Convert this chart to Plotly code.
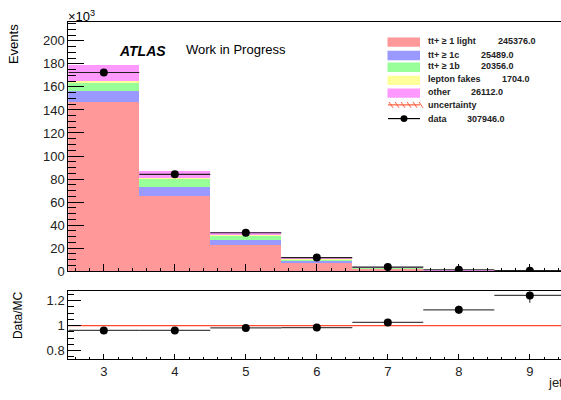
import numpy as np
import plotly.graph_objects as go

# ---- data: jet multiplicity bins (events per bin) ----
jet_bins = [3, 4, 5, 6, 7, 8, 9]
light = [147000, 65300, 23100, 7300, 2300, 550, 130]
one_c = [10000, 8000, 4400, 1800, 500, 250, 100]
one_b = [7300, 7000, 4000, 1500, 300, 120, 40]
fakes = [800, 500, 250, 100, 30, 15, 9]
other = [14200, 6600, 2200, 1300, 300, 150, 80]
data = [172500, 84100, 33340, 11820, 3520, 1223, 446]

sample_names = ["tt+ \u2265 1 light", "tt+ \u2265 1c", "tt+ \u2265 1b", "lepton fakes", "other"]
sample_totals = ["245376.0", "25489.0", "20356.0", "1704.0", "26112.0"]
data_total = "307946.0"
colors = ["#ff9999", "#9999ff", "#99ff99", "#ffff99", "#ff99ff"]

W, H = 561, 400


def px(x):
    return x / W


def py(y):
    return 1 - y / H


stack = [np.array(s, float) for s in (light, one_c, one_b, fakes, other)]
mc_total = sum(stack)
data_arr = np.array(data, float)
ratio = data_arr / mc_total
ratio_err = np.sqrt(data_arr) / mc_total

fig = go.Figure()

# stacked simulation histograms (in units of 10^3 events)
for s, c, n in zip(stack, colors, sample_names):
    fig.add_trace(go.Bar(x=jet_bins, y=s / 1000, width=1.0, marker=dict(color=c, line=dict(width=0)),
                         name=n, xaxis="x", yaxis="y", showlegend=False))

# data points with bin-width horizontal bars
fig.add_trace(go.Scatter(
    x=jet_bins, y=data_arr / 1000, mode="markers",
    marker=dict(color="black", size=8),
    error_x=dict(type="constant", value=0.5, color="#222", thickness=1.2, width=0),
    error_y=dict(type="data", array=np.sqrt(data_arr) / 1000, color="#222", thickness=1.2, width=0),
    xaxis="x", yaxis="y", showlegend=False))

# ratio panel: unit line for the uncertainty band and data/MC points
fig.add_trace(go.Scatter(x=[2.5, 9.5], y=[1, 1], mode="lines",
                         line=dict(color="#ff4a2a", width=1.2),
                         xaxis="x2", yaxis="y2", showlegend=False))
fig.add_trace(go.Scatter(
    x=jet_bins, y=ratio, mode="markers",
    marker=dict(color="black", size=8),
    error_x=dict(type="constant", value=0.5, color="#444", thickness=1.2, width=0),
    error_y=dict(type="data", array=ratio_err, color="#444", thickness=1.2, width=0),
    xaxis="x2", yaxis="y2", showlegend=False))

x_left = 68.3
x_scale = 71.0
x_lo = 2.5
x_hi = 2.5 + (W - x_left) / x_scale
axis_common = dict(showline=True, linecolor="black", linewidth=1, ticks="inside",
                   tickcolor="black", tickwidth=1, showgrid=False, zeroline=False,
                   tickfont=dict(family="Liberation Sans", size=13, color="#222"))

fig.update_layout(
    width=W, height=H, margin=dict(l=0, r=0, t=0, b=0),
    paper_bgcolor="white", plot_bgcolor="white", barmode="stack", bargap=0,
    xaxis=dict(domain=[px(x_left), 1], range=[x_lo, x_hi], dtick=1, ticklen=7,
               showticklabels=False, mirror=True, anchor="y",
               minor=dict(ticks="inside", dtick=0.2, ticklen=3.5, tickcolor="black"), **axis_common),
    yaxis=dict(domain=[py(276.7), py(22.3)], range=[0, 216.5], dtick=20, ticklen=16, anchor="x",
               minor=dict(ticks="inside", dtick=5, ticklen=8, tickcolor="black"), **axis_common),
    xaxis2=dict(domain=[px(x_left), 1], range=[x_lo, x_hi], dtick=1, ticklen=5,
                mirror=True, anchor="y2",
                minor=dict(ticks="inside", dtick=0.2, ticklen=2.5, tickcolor="black"), **axis_common),
    yaxis2=dict(domain=[py(366.7), py(297.3)], range=[0.73, 1.275], tickvals=[0.8, 1, 1.2],
                ticklen=13, anchor="x2",
                minor=dict(ticks="inside", dtick=0.05, ticklen=6, tickcolor="black"), **axis_common),
)

txt = dict(family="Liberation Sans", color="black")
ann = [
    dict(x=px(66), y=py(16), text="\u00d710<sup>3</sup>", xanchor="left", yanchor="middle",
         font=dict(size=13, **txt)),
    dict(x=px(13), y=py(22.5), text="Events", textangle=-90, xanchor="center", yanchor="top",
         font=dict(size=13, **txt)),
    dict(x=px(18), y=py(295), text="Data/MC", textangle=-90, xanchor="center", yanchor="top",
         font=dict(size=12, **txt)),
    dict(x=px(117), y=py(52), text="<b><i>ATLAS</i></b>", xanchor="left", yanchor="middle",
         font=dict(size=14, **txt)),
    dict(x=px(184), y=py(51), text="Work in Progress", xanchor="left", yanchor="middle",
         font=dict(size=13, **txt)),
    dict(x=px(546), y=py(390), text="jets", xanchor="left", yanchor="middle",
         font=dict(size=13, family="Liberation Sans", color="#222")),
]

# legend drawn in paper coordinates
shapes = []
rows_y = [43, 56.7, 68.7, 82, 95]
num_x = [496, 479, 479, 500, 469]
for yc, c, n, t, nx in zip(rows_y, colors, sample_names, sample_totals, num_x):
    shapes.append(dict(type="rect", xref="paper", yref="paper", x0=px(387.5), x1=px(420),
                       y0=py(yc + 4.8), y1=py(yc - 4.8), fillcolor=c, line=dict(width=0)))
    ann.append(dict(x=px(426), y=py(yc - 1), text=f"<b>{n}</b>", xanchor="left", yanchor="middle",
                    font=dict(size=9, family="Liberation Sans", color="#222")))
    ann.append(dict(x=px(nx), y=py(yc - 1), text=f"<b>{t}</b>", xanchor="left", yanchor="middle",
                    font=dict(size=9, family="Liberation Sans", color="#222")))

# uncertainty swatch: hatched line
yu = 107
shapes.append(dict(type="line", xref="paper", yref="paper", x0=px(388), x1=px(420),
                   y0=py(yu), y1=py(yu), line=dict(color="#ff5a3c", width=1.2)))
for k in range(6):
    x0 = 389 + k * 6
    shapes.append(dict(type="line", xref="paper", yref="paper", x0=px(x0), x1=px(x0 + 4),
                       y0=py(yu - 3), y1=py(yu + 3), line=dict(color="#ff5a3c", width=1)))
ann.append(dict(x=px(426), y=py(yu), text="<b>uncertainty</b>", xanchor="left", yanchor="middle",
                font=dict(size=9, family="Liberation Sans", color="#222")))

# data swatch
yd = 121
shapes.append(dict(type="line", xref="paper", yref="paper", x0=px(388), x1=px(420),
                   y0=py(yd), y1=py(yd), line=dict(color="black", width=1.2)))
shapes.append(dict(type="circle", xref="paper", yref="paper", x0=px(400.5), x1=px(407.5),
                   y0=py(yd + 3.5), y1=py(yd - 3.5), fillcolor="black", line=dict(width=0)))
ann.append(dict(x=px(426), y=py(yd), text="<b>data</b>", xanchor="left", yanchor="middle",
                font=dict(size=9, family="Liberation Sans", color="#222")))
ann.append(dict(x=px(465), y=py(yd), text=f"<b>{data_total}</b>", xanchor="left", yanchor="middle",
                font=dict(size=9, family="Liberation Sans", color="#222")))

for a in ann:
    a.update(xref="paper", yref="paper", showarrow=False)

fig.update_layout(annotations=ann, shapes=shapes)
fig.write_html("out.html")
